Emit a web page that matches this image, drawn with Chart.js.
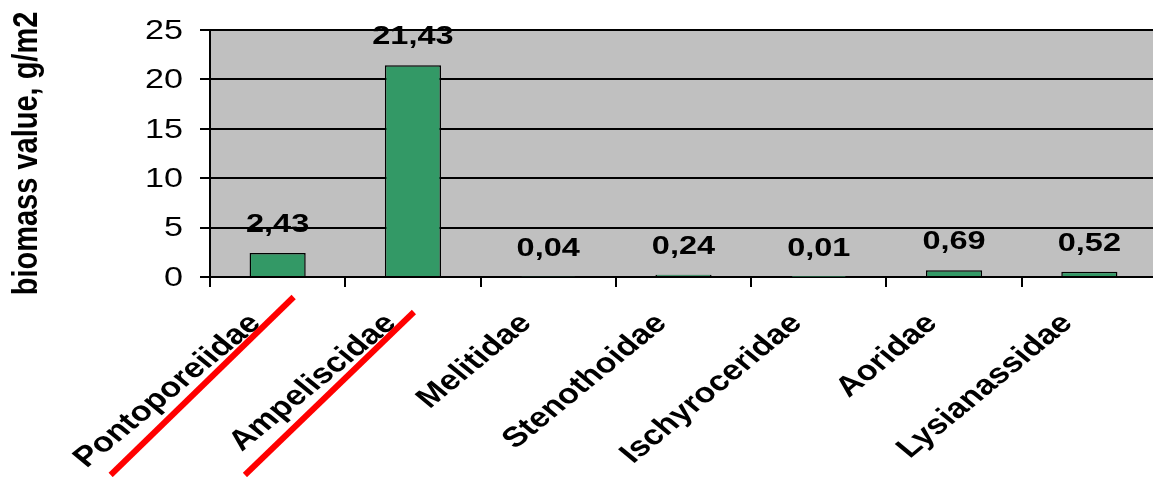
<!DOCTYPE html>
<html>
<head>
<meta charset="utf-8">
<script src="https://cdn.jsdelivr.net/npm/chart.js@4"></script>
<style>
  html, body { margin: 0; padding: 0; background: #fff; overflow: hidden; }
  #wrap { position: relative; width: 1162px; height: 477px; }
</style>
</head>
<body>
<div id="wrap"><canvas id="chart"></canvas></div>
<script>
// Biomassa per famiglia
const families = ['Pontoporeiidae', 'Ampeliscidae', 'Melitidae', 'Stenothoidae', 'Ischyroceridae', 'Aoridae', 'Lysianassidae'];
const biomass = [2.43, 21.43, 0.04, 0.24, 0.01, 0.69, 0.52];
const yTicks = [0, 5, 10, 15, 20, 25];
const yTitle = 'biomass value, g/m2';
const struck = [0, 1]; // categorie barrate in rosso

const FONT = '"Liberation Sans", Arial, sans-serif';
const STRETCH = 1.22; // il grafico originale e' allargato in orizzontale
const fmt = v => v.toFixed(2).replace('.', ',');

// sfondo grigio dell'area del grafico
const plotBg = {
    id: 'plotBg',
    beforeDraw(chart) {
        const { ctx, chartArea: a } = chart;
        ctx.save();
        ctx.fillStyle = '#c0c0c0';
        ctx.fillRect(a.left, a.top, a.right - a.left, a.bottom - a.top);
        ctx.strokeStyle = '#808080';
        ctx.lineWidth = 1.5;
        ctx.beginPath();
        ctx.moveTo(a.left, a.top);
        ctx.lineTo(a.right, a.top);
        ctx.stroke();
        ctx.restore();
    }
};

// testi disegnati a mano (con lo stesso allargamento dell'originale)
const texts = {
    id: 'texts',
    afterDraw(chart) {
        const { ctx, chartArea: a } = chart;
        const x = chart.scales.x, y = chart.scales.y;
        ctx.save();
        ctx.fillStyle = '#000';

        // valori sopra le barre
        ctx.font = 'bold 25px ' + FONT;
        ctx.textAlign = 'center';
        ctx.textBaseline = 'alphabetic';
        chart.getDatasetMeta(0).data.forEach((bar, i) => {
            ctx.save();
            ctx.translate(bar.x, bar.y - 21);
            ctx.scale(1.3, 1);
            ctx.fillText(fmt(biomass[i]), 0, 0);
            ctx.restore();
        });

        // etichette asse y
        ctx.font = '28px ' + FONT;
        ctx.textAlign = 'right';
        ctx.textBaseline = 'middle';
        yTicks.forEach(v => {
            ctx.save();
            ctx.translate(a.left - 27, y.getPixelForValue(v) + 1);
            ctx.scale(STRETCH, 1);
            ctx.fillText(String(v), 0, 0);
            ctx.restore();
        });

        // titolo asse y
        ctx.font = 'bold 29px ' + FONT;
        ctx.textAlign = 'center';
        ctx.save();
        ctx.translate(27, (a.top + a.bottom) / 2);
        ctx.scale(STRETCH, 1);
        ctx.rotate(-Math.PI / 2);
        ctx.fillText(yTitle, 0, 0);
        ctx.restore();

        // categorie ruotate di 45 gradi
        ctx.font = 'bold 28px ' + FONT;
        ctx.textAlign = 'right';
        families.forEach((name, i) => {
            ctx.save();
            ctx.translate(x.getPixelForValue(i) - 22, a.bottom + 42);
            ctx.scale(STRETCH, 1);
            ctx.rotate(-Math.PI / 4);
            ctx.fillText(name, 0, 0);
            ctx.restore();
        });

        // linee rosse sotto le prime due etichette
        const offs = [[-167, 198, 16, 20], [-168, 198, 1, 35]];
        ctx.strokeStyle = '#ff0000';
        ctx.lineWidth = 6;
        struck.forEach((idx, k) => {
            const cx = x.getPixelForValue(idx);
            const o = offs[k];
            ctx.beginPath();
            ctx.moveTo(cx + o[0], a.bottom + o[1]);
            ctx.lineTo(cx + o[2], a.bottom + o[3]);
            ctx.stroke();
        });
        ctx.restore();
    }
};

new Chart(document.getElementById('chart'), {
    type: 'bar',
    data: {
        labels: families,
        datasets: [{
            data: biomass,
            backgroundColor: '#339966',
            borderColor: '#000',
            borderWidth: 1.5,
            barPercentage: 0.415,
            categoryPercentage: 1
        }]
    },
    options: {
        responsive: true,
        maintainAspectRatio: false,
        animation: false,
        layout: { padding: { top: 30, right: 5, left: 0, bottom: 0 } },
        plugins: {
            legend: { display: false },
            tooltip: { enabled: false }
        },
        scales: {
            y: {
                min: 0,
                max: 25,
                afterBuildTicks: s => { s.ticks = yTicks.map(v => ({ value: v })); },
                afterFit: s => { s.width = 210; },
                ticks: { display: false },
                grid: { color: '#000', lineWidth: 2, tickLength: 10, tickColor: '#000' },
                border: { color: '#000', width: 2 }
            },
            x: {
                afterFit: s => { s.height = 200; },
                ticks: { display: false },
                grid: { offset: true, drawOnChartArea: false, color: '#000', lineWidth: 2, tickLength: 10 },
                border: { color: '#000', width: 2 }
            }
        }
    },
    plugins: [plotBg, texts]
});
</script>
</body>
</html>
